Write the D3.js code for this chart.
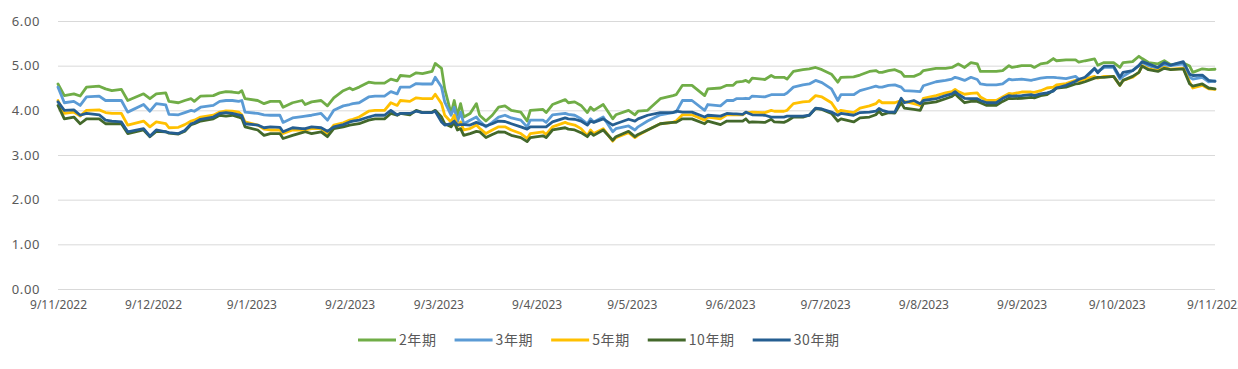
<!DOCTYPE html>
<html>
<head>
<meta charset="utf-8">
<script src="https://cdn.jsdelivr.net/npm/d3@7"></script>
<style>
  html, body { margin: 0; padding: 0; background: #fff; }
  svg { display: block; }
</style>
</head>
<body>
<svg id="chart" width="1238" height="369"></svg>
<script>
const dates = [
"2022-11-09","2022-11-11","2022-11-14","2022-11-16","2022-11-18","2022-11-22","2022-11-24","2022-11-26","2022-11-29","2022-12-01",
"2022-12-06","2022-12-08","2022-12-10","2022-12-13","2022-12-14","2022-12-17","2022-12-19","2022-12-21","2022-12-22","2022-12-24",
"2022-12-28","2022-12-30","2023-01-01","2023-01-03","2023-01-05","2023-01-06","2023-01-07","2023-01-11","2023-01-13","2023-01-15",
"2023-01-18","2023-01-19","2023-01-22","2023-01-25","2023-01-26","2023-01-28","2023-01-31","2023-02-02","2023-02-04","2023-02-07",
"2023-02-09","2023-02-10","2023-02-12","2023-02-15","2023-02-17","2023-02-20","2023-02-22","2023-02-24","2023-02-25","2023-02-28",
"2023-03-02","2023-03-04","2023-03-07","2023-03-08","2023-03-10","2023-03-11","2023-03-13","2023-03-14","2023-03-15","2023-03-16",
"2023-03-17","2023-03-19","2023-03-21","2023-03-22","2023-03-24","2023-03-26","2023-03-28","2023-03-30","2023-04-01","2023-04-04",
"2023-04-06","2023-04-07","2023-04-11","2023-04-12","2023-04-14","2023-04-18","2023-04-19","2023-04-21","2023-04-23","2023-04-25",
"2023-04-26","2023-04-27","2023-04-30","2023-05-03","2023-05-04","2023-05-08","2023-05-10","2023-05-11","2023-05-14","2023-05-18",
"2023-05-22","2023-05-23","2023-05-25","2023-05-28","2023-06-01","2023-06-02","2023-06-06","2023-06-08","2023-06-10","2023-06-11",
"2023-06-13","2023-06-14","2023-06-15","2023-06-16","2023-06-20","2023-06-22","2023-06-23","2023-06-26","2023-06-27","2023-06-29",
"2023-07-02","2023-07-04","2023-07-06","2023-07-08","2023-07-11","2023-07-13","2023-07-14","2023-07-18","2023-07-20","2023-07-23",
"2023-07-25","2023-07-26","2023-07-27","2023-07-29","2023-07-31","2023-08-02","2023-08-03","2023-08-06","2023-08-08","2023-08-09",
"2023-08-13","2023-08-16","2023-08-18","2023-08-19","2023-08-20","2023-08-22","2023-08-24","2023-08-26","2023-08-27","2023-08-29",
"2023-09-01","2023-09-03","2023-09-05","2023-09-06","2023-09-09","2023-09-12","2023-09-13","2023-09-15","2023-09-17","2023-09-19",
"2023-09-20","2023-09-23","2023-09-26","2023-09-27","2023-09-29","2023-10-02","2023-10-03","2023-10-05","2023-10-08","2023-10-10",
"2023-10-11","2023-10-14","2023-10-16","2023-10-17","2023-10-19","2023-10-22","2023-10-24","2023-10-26","2023-10-30","2023-11-01",
"2023-11-02","2023-11-05","2023-11-07","2023-11-09"
];

const y2 = [
4.59,4.33,4.37,4.32,4.52,4.54,4.48,4.44,4.47,4.22,
4.37,4.26,4.37,4.39,4.20,4.17,4.22,4.26,4.20,4.32,
4.33,4.39,4.42,4.41,4.39,4.44,4.26,4.22,4.15,4.20,
4.20,4.07,4.17,4.22,4.13,4.19,4.22,4.10,4.28,4.44,
4.50,4.46,4.52,4.63,4.61,4.61,4.70,4.66,4.78,4.76,
4.84,4.82,4.87,5.05,4.94,4.48,3.93,4.22,3.89,4.15,
3.85,3.93,4.15,3.89,3.76,3.89,4.07,4.10,4.00,3.96,
3.76,4.00,4.02,3.95,4.13,4.24,4.17,4.19,4.11,3.95,
4.07,4.00,4.13,3.81,3.90,4.00,3.90,3.98,4.00,4.26,
4.33,4.35,4.56,4.56,4.33,4.48,4.50,4.56,4.56,4.63,
4.65,4.67,4.63,4.72,4.69,4.78,4.74,4.74,4.70,4.87,
4.91,4.93,4.96,4.91,4.81,4.63,4.74,4.75,4.79,4.87,
4.89,4.85,4.85,4.89,4.91,4.85,4.76,4.76,4.82,4.89,
4.94,4.94,4.96,5.00,5.04,4.96,5.07,5.04,4.87,4.87,
4.87,4.89,5.00,4.96,5.00,5.00,4.96,5.04,5.06,5.16,
5.11,5.13,5.13,5.08,5.11,5.15,5.01,5.07,5.07,4.96,
5.07,5.09,5.21,5.16,5.07,5.04,5.11,5.02,5.06,4.99,
4.85,4.93,4.91,4.92
];

const y3 = [
4.52,4.17,4.20,4.11,4.30,4.32,4.22,4.22,4.22,3.96,
4.13,3.98,4.15,4.12,3.91,3.90,3.95,4.00,3.98,4.07,
4.11,4.20,4.22,4.22,4.20,4.22,3.96,3.93,3.90,3.89,
3.89,3.73,3.83,3.86,3.87,3.89,3.93,3.78,4.00,4.10,
4.13,4.15,4.17,4.30,4.32,4.32,4.42,4.37,4.52,4.52,
4.60,4.59,4.59,4.74,4.52,4.19,3.89,4.07,3.74,3.96,
3.70,3.78,3.85,3.76,3.63,3.73,3.85,3.89,3.83,3.78,
3.63,3.78,3.78,3.73,3.90,3.93,3.91,3.89,3.81,3.70,
3.81,3.74,3.85,3.52,3.59,3.65,3.56,3.63,3.76,3.90,
3.95,3.96,4.22,4.22,4.00,4.13,4.10,4.22,4.22,4.26,
4.26,4.27,4.26,4.32,4.30,4.35,4.35,4.35,4.39,4.52,
4.57,4.59,4.67,4.62,4.48,4.22,4.35,4.35,4.44,4.50,
4.54,4.52,4.52,4.56,4.57,4.52,4.44,4.43,4.42,4.55,
4.64,4.67,4.70,4.74,4.72,4.67,4.74,4.69,4.59,4.57,
4.57,4.59,4.70,4.68,4.70,4.67,4.69,4.72,4.74,4.74,
4.73,4.71,4.76,4.70,4.71,4.93,4.87,4.96,4.96,4.70,
4.76,4.89,5.01,5.07,5.00,4.93,5.01,5.00,5.04,4.74,
4.70,4.74,4.64,4.66
];

const y5 = [
4.22,3.93,3.96,3.87,4.00,4.01,3.95,3.93,3.93,3.67,
3.76,3.63,3.74,3.70,3.61,3.62,3.68,3.76,3.78,3.85,
3.89,3.96,3.99,3.98,3.96,3.90,3.74,3.67,3.58,3.56,
3.56,3.48,3.56,3.56,3.56,3.59,3.59,3.48,3.67,3.72,
3.78,3.80,3.85,3.98,4.00,4.00,4.17,4.11,4.22,4.20,
4.28,4.26,4.26,4.36,4.15,3.89,3.74,3.89,3.63,3.74,
3.56,3.59,3.67,3.60,3.48,3.56,3.63,3.63,3.56,3.48,
3.37,3.48,3.52,3.46,3.63,3.73,3.70,3.67,3.59,3.43,
3.56,3.48,3.59,3.31,3.39,3.50,3.39,3.44,3.56,3.70,
3.73,3.76,3.90,3.90,3.78,3.85,3.81,3.90,3.90,3.90,
3.90,3.95,3.95,3.96,3.95,4.00,3.98,3.98,4.00,4.15,
4.19,4.20,4.33,4.30,4.17,3.96,4.00,3.95,4.05,4.10,
4.15,4.22,4.17,4.17,4.17,4.22,4.20,4.15,4.11,4.27,
4.33,4.39,4.42,4.47,4.42,4.36,4.38,4.39,4.30,4.22,
4.22,4.30,4.38,4.37,4.41,4.41,4.40,4.44,4.50,4.52,
4.57,4.60,4.67,4.65,4.70,4.76,4.72,4.76,4.76,4.56,
4.67,4.74,4.85,5.00,4.93,4.89,4.96,4.92,4.94,4.63,
4.50,4.56,4.48,4.47
];

const y10 = [
4.11,3.81,3.85,3.70,3.81,3.81,3.70,3.70,3.70,3.48,
3.56,3.41,3.53,3.52,3.49,3.47,3.53,3.68,3.70,3.76,
3.81,3.89,3.87,3.89,3.85,3.82,3.63,3.56,3.44,3.48,
3.48,3.37,3.44,3.50,3.52,3.48,3.52,3.41,3.59,3.63,
3.67,3.68,3.70,3.78,3.81,3.81,3.93,3.89,3.93,3.90,
4.00,3.95,3.96,4.00,3.85,3.70,3.63,3.73,3.56,3.59,
3.44,3.48,3.53,3.52,3.39,3.46,3.52,3.51,3.44,3.39,
3.30,3.39,3.43,3.39,3.56,3.61,3.58,3.56,3.50,3.41,
3.50,3.44,3.56,3.33,3.41,3.53,3.41,3.46,3.56,3.70,
3.73,3.73,3.81,3.81,3.70,3.76,3.68,3.76,3.76,3.76,
3.76,3.81,3.73,3.74,3.73,3.80,3.74,3.73,3.76,3.85,
3.85,3.89,4.04,4.02,3.93,3.76,3.81,3.74,3.83,3.85,
3.90,3.98,3.90,3.95,3.94,4.17,4.05,4.02,4.00,4.15,
4.19,4.26,4.31,4.37,4.30,4.17,4.20,4.20,4.17,4.11,
4.11,4.20,4.27,4.26,4.27,4.29,4.28,4.33,4.35,4.45,
4.50,4.52,4.59,4.60,4.64,4.72,4.74,4.74,4.76,4.56,
4.67,4.76,4.85,4.99,4.91,4.87,4.94,4.91,4.93,4.59,
4.54,4.59,4.50,4.48
];

const y30 = [
4.19,4.00,4.01,3.89,3.93,3.90,3.78,3.76,3.74,3.52,
3.59,3.42,3.56,3.52,3.50,3.48,3.55,3.70,3.72,3.80,
3.85,3.93,3.95,3.93,3.90,3.88,3.70,3.67,3.61,3.63,
3.62,3.52,3.61,3.59,3.59,3.63,3.61,3.53,3.63,3.68,
3.74,3.76,3.78,3.85,3.89,3.89,4.00,3.90,3.93,3.93,
3.98,3.95,3.95,3.98,3.74,3.67,3.70,3.76,3.67,3.68,
3.68,3.67,3.73,3.70,3.65,3.70,3.76,3.75,3.70,3.63,
3.58,3.63,3.63,3.63,3.74,3.83,3.81,3.80,3.76,3.67,
3.76,3.73,3.81,3.67,3.70,3.80,3.76,3.81,3.89,3.95,
3.95,3.98,3.96,3.96,3.85,3.89,3.87,3.93,3.92,3.92,
3.91,3.96,3.93,3.90,3.89,3.85,3.85,3.85,3.87,3.87,
3.87,3.89,4.05,4.03,3.96,3.89,3.93,3.89,3.95,3.96,
3.98,4.04,4.00,3.96,3.96,4.27,4.17,4.22,4.15,4.22,
4.26,4.33,4.37,4.42,4.36,4.27,4.26,4.26,4.22,4.17,
4.17,4.27,4.33,4.32,4.33,4.35,4.33,4.37,4.39,4.43,
4.50,4.56,4.65,4.69,4.74,4.94,4.84,4.99,4.99,4.74,
4.85,4.89,5.00,5.09,5.04,4.96,5.07,5.01,5.09,4.81,
4.78,4.79,4.67,4.65
];

const seriesNames = ["2年期", "3年期", "5年期", "10年期", "30年期"];
const seriesColors = ["#70AD47", "#5B9BD5", "#FFC000", "#43682B", "#255E91"];
const yTicks = [0, 1, 2, 3, 4, 5, 6];
const xTickDates = ["2022-11-09","2022-12-09","2023-01-09","2023-02-09","2023-03-09","2023-04-09",
                    "2023-05-09","2023-06-09","2023-07-09","2023-08-09","2023-09-09","2023-10-09","2023-11-09"];

(function () {
  const parse = d3.timeParse("%Y-%m-%d");
  const svg = d3.select("#chart");

  const mLeft = 58, mRight = 1215, mTop = 21, mBottom = 289;

  const x = d3.scaleTime()
    .domain([parse("2022-11-09"), parse("2023-11-09")])
    .range([mLeft, mRight]);
  const y = d3.scaleLinear().domain([0, 6]).range([mBottom, mTop]);

  const yAxis = d3.axisLeft(y)
    .tickValues(yTicks)
    .tickFormat(d3.format(".2f"))
    .tickSize(-(mRight - mLeft))
    .tickPadding(18);
  const gy = svg.append("g").attr("transform", `translate(${mLeft},0)`).call(yAxis);
  gy.select(".domain").remove();
  gy.selectAll(".tick line").attr("stroke", "#D9D9D9").attr("stroke-width", 1);
  gy.selectAll(".tick text")
    .attr("fill", "#595959")
    .style("font-family", "'Noto Sans', 'DejaVu Sans', sans-serif")
    .style("font-size", "13px")
    .style("letter-spacing", "0.6px");

  const fmt = d => `${d.getDate()}/${d.getMonth() + 1}/${d.getFullYear()}`;
  const xAxis = d3.axisBottom(x)
    .tickValues(xTickDates.map(parse))
    .tickFormat(fmt)
    .tickSize(0)
    .tickPadding(11);
  const gx = svg.append("g").attr("transform", `translate(0,${mBottom})`).call(xAxis);
  gx.select(".domain").remove();
  gx.selectAll(".tick text")
    .attr("fill", "#595959")
    .style("font-family", "'Noto Sans', 'DejaVu Sans', sans-serif")
    .style("font-size", "12px");

  const allSeries = [y2, y3, y5, y10, y30];
  const line = d3.line()
    .x((d, i) => x(parse(dates[i])))
    .y(d => y(d));

  allSeries.forEach((vals, k) => {
    svg.append("path")
      .datum(vals)
      .attr("fill", "none")
      .attr("stroke", seriesColors[k])
      .attr("stroke-width", 2.8)
      .attr("stroke-linejoin", "round")
      .attr("stroke-linecap", "round")
      .attr("d", line);
  });

  const legend = svg.append("g").attr("transform", "translate(0,340)");
  let lx = 358;
  seriesNames.forEach((name, k) => {
    const g = legend.append("g").attr("transform", `translate(${lx},0)`);
    g.append("line")
      .attr("x1", 0).attr("x2", 38).attr("y1", 0).attr("y2", 0)
      .attr("stroke", seriesColors[k]).attr("stroke-width", 3);
    const t = g.append("text")
      .attr("x", 41).attr("y", 0).attr("dy", "0.36em")
      .attr("fill", "#595959")
      .style("font-family", "'Noto Sans CJK SC', 'Noto Sans', sans-serif")
      .style("font-size", "14px")
      .style("letter-spacing", "0.6px")
      .text(name);
    const w = t.node().getComputedTextLength();
    lx += 41 + w + 18;
  });
})();
</script>
</body>
</html>
